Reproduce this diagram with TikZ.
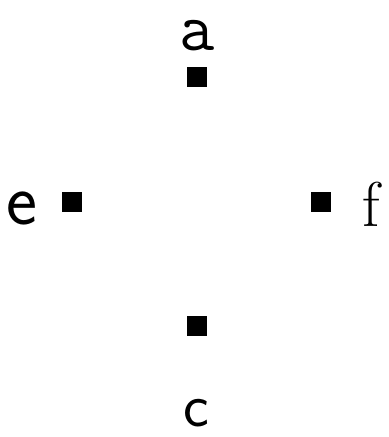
\documentclass[tikz,border=0pt]{standalone}
\usepackage{tikz}
\usetikzlibrary{positioning}

\begin{document}
\begin{tikzpicture}[
  x=0.01cm, y=-0.01cm,
  pt/.style={draw=none, fill=black, rectangle, minimum size=0.2cm, inner sep=0pt},
  lbl/.style={anchor=base, inner sep=0pt, font=#1}
]
\useasboundingbox (0,0) rectangle (389,437);

% ── Points ──
\node[pt] (pa) at (197, 77) {};
\node[pt] (pe) at (72, 202) {};
\node[pt] (pf) at (321, 202) {};
\node[pt] (pc) at (196.5, 326) {};

% ── Labels ──
\node[lbl={\fontsize{19.5}{22}\ttfamily}] (la) at (197.5, 51) {a};
\node[lbl={\fontsize{21}{24}\sffamily}] (le) at (21.5, 225) {e};
\node[lbl={\fontsize{18}{22}\rmfamily}] (lf) at (371, 226) {f};
\node[lbl={\fontsize{17.5}{21}\sffamily}] (lc) at (196, 426) {c};

\end{tikzpicture}
\end{document}
